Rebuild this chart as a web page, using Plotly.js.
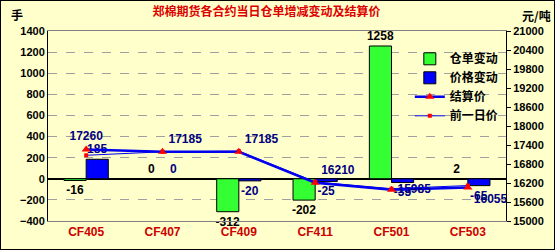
<!DOCTYPE html>
<html><head><meta charset="utf-8">
<script src="https://cdn.plot.ly/plotly-3.0.1.min.js"></script>
<style>body{margin:0;background:#fff}#c{width:553px;height:248px;border:1px solid #000}</style>
</head><body><div id="c"></div>
<script>
const categories = ['CF405','CF407','CF409','CF411','CF501','CF503'];
const warrantChange = [-16, 0, -312, -202, 1258, 2];
const priceChange = [185, 0, -20, -25, -35, -65];
const settlePrice = [17260, 17185, 17185, 16210, 15985, 16055];
const prevPrice = [17075, 17185, 17205, 16235, 16020, 16120];
const leftTicks = [-400,-200,0,200,400,600,800,1000,1200,1400];
const rightTicks = [15000,15600,16200,16800,17400,18000,18600,19200,19800,20400,21000];

const F = '"Liberation Sans", Arial, "Noto Sans CJK SC", sans-serif';
const CJK = '"Noto Sans CJK SC", sans-serif';
const bg = '#ffffcc';

const traces = [
  {type:'bar', name:'仓单变动', x:categories, y:warrantChange, yaxis:'y',
   marker:{color:'#33ff33', line:{color:'#000', width:1}},
   text:warrantChange.map(String), textposition:'outside', constraintext:'none', cliponaxis:false,
   textfont:{family:F, size:12, color:'#000', weight:'bold'}},
  {type:'bar', name:'价格变动', x:categories, y:priceChange, yaxis:'y',
   marker:{color:'#0000ff', line:{color:'#000', width:1}},
   text:priceChange.map(String), textposition:'outside', constraintext:'none', cliponaxis:false,
   textfont:{family:F, size:12, color:'#000080', weight:'bold'}},
  {type:'scatter', name:'结算价', x:categories, y:settlePrice, yaxis:'y2',
   mode:'lines+markers+text', line:{color:'#0000ee', width:2.5},
   marker:{symbol:'triangle-up', color:'#ff0000', size:8},
   text:settlePrice.map(String),
   textposition:['top center','top right','top right','top right','middle right','bottom right'],
   cliponaxis:false,
   textfont:{family:F, size:12, color:'#000080', weight:'bold'}},
  {type:'scatter', name:'前一日价', x:categories, y:prevPrice, yaxis:'y2',
   mode:'lines+markers', line:{color:'#0000ee', width:1},
   marker:{symbol:'square', color:'#ff0000', size:4}}
];

const layout = {
  width:553, height:248,
  margin:{l:47, r:48, t:30, b:28},
  paper_bgcolor:bg, plot_bgcolor:bg,
  showlegend:true,
  barmode:'group', bargap:0.42, bargroupgap:0,
  title:{text:'郑棉期货各合约当日仓单增减变动及结算价', x:0.48, xanchor:'center', y:0.955, yanchor:'middle',
    font:{family:CJK, size:12, color:'#dd0000', weight:'bold'}},
  legend:{x:0.79, y:0.93, xanchor:'left', yanchor:'top', bgcolor:'rgba(0,0,0,0)',
    font:{family:CJK, size:12, color:'#000', weight:'bold'}, tracegroupgap:0, itemwidth:30},
  xaxis:{type:'category', showline:true, mirror:true, linecolor:'#808080', linewidth:1,
    ticks:'', showgrid:false,
    tickfont:{family:F, size:12, color:'#cc0000', weight:'bold'}},
  yaxis:{range:[-400,1400], tickvals:leftTicks, showline:true, linecolor:'#000', linewidth:1,
    showgrid:true, gridcolor:'#a0a0a0', griddash:'dash', gridwidth:1,
    zeroline:true, zerolinecolor:'#000', zerolinewidth:1.5, ticks:'',
    tickfont:{family:F, size:11, color:'#000', weight:'bold'}},
  yaxis2:{range:[15000,21000], tickvals:rightTicks, tickformat:'d', overlaying:'y', side:'right',
    showline:true, linecolor:'#000', linewidth:1, showgrid:false, zeroline:false,
    ticks:'outside', ticklen:4, tickcolor:'#000',
    tickfont:{family:F, size:11, color:'#000', weight:'bold'}},
  annotations:[
    {text:'手', xref:'paper', yref:'paper', x:-0.085, y:1.085, xanchor:'left', yanchor:'middle', showarrow:false,
     font:{family:CJK, size:12, color:'#000', weight:'bold'}},
    {text:'元/吨', xref:'paper', yref:'paper', x:1.03, y:1.08, xanchor:'left', yanchor:'middle', showarrow:false,
     font:{family:CJK, size:12, color:'#000', weight:'bold'}}
  ]
};
Plotly.newPlot('c', traces, layout, {displayModeBar:false, staticPlot:true});
</script></body></html>
